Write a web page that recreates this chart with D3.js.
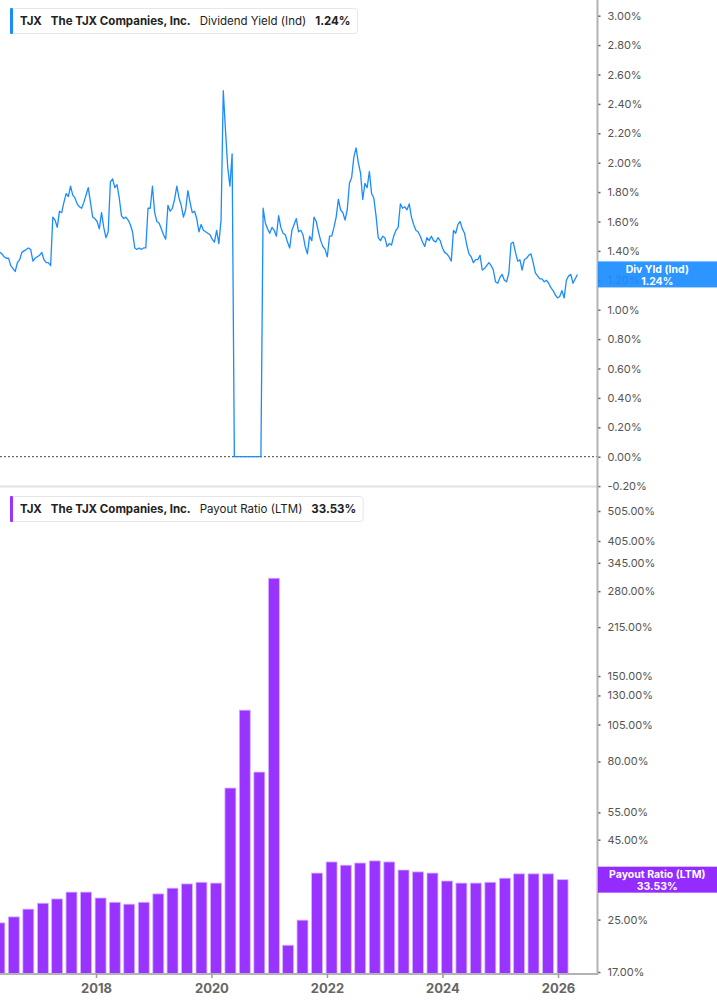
<!DOCTYPE html>
<html>
<head>
<meta charset="utf-8">
<script src="https://cdn.jsdelivr.net/npm/d3@7"></script>
<style>
  body { margin: 0; background: #fff; font-family: Inter, "Noto Sans", sans-serif; }
</style>
</head>
<body>
<div id="chart"></div>
<script>
// dividend yield (%), sampled every 14 days from the start date
const yieldStart = "2016-05-02";
const yieldStepDays = 14;
const yieldValues = [
  1.39, 1.38, 1.36, 1.35, 1.35, 1.30, 1.28, 1.26, 1.32, 1.34,
  1.39, 1.40, 1.41, 1.42, 1.41, 1.33, 1.35, 1.36, 1.37, 1.39,
  1.34, 1.32, 1.32, 1.30, 1.63, 1.61, 1.56, 1.67, 1.66, 1.73,
  1.79, 1.77, 1.84, 1.78, 1.76, 1.72, 1.70, 1.69, 1.73, 1.78,
  1.83, 1.73, 1.63, 1.62, 1.60, 1.55, 1.66, 1.56, 1.49, 1.53,
  1.87, 1.89, 1.83, 1.85, 1.76, 1.64, 1.62, 1.63, 1.61, 1.58,
  1.53, 1.42, 1.41, 1.42, 1.41, 1.42, 1.42, 1.69, 1.69, 1.84,
  1.66, 1.60, 1.59, 1.55, 1.51, 1.48, 1.71, 1.67, 1.69, 1.75,
  1.84, 1.76, 1.71, 1.63, 1.68, 1.81, 1.73, 1.66, 1.67, 1.62,
  1.53, 1.58, 1.54, 1.53, 1.52, 1.51, 1.48, 1.46, 1.54, 1.45,
  1.61, 2.49, 2.22, 1.97, 1.84, 2.06, 0, 0, 0, 0,
  0, 0, 0, 0, 0, 0, 0, 0, 0, 1.69,
  1.59, 1.55, 1.52, 1.56, 1.54, 1.50, 1.64, 1.56, 1.52, 1.51,
  1.46, 1.42, 1.54, 1.58, 1.62, 1.53, 1.54, 1.51, 1.43, 1.38,
  1.50, 1.47, 1.63, 1.60, 1.53, 1.47, 1.43, 1.41, 1.36, 1.50,
  1.50, 1.56, 1.63, 1.75, 1.68, 1.66, 1.61, 1.68, 1.86, 1.90,
  2.04, 2.10, 2.00, 1.93, 1.75, 1.86, 1.83, 1.94, 1.79, 1.76,
  1.64, 1.49, 1.47, 1.50, 1.49, 1.43, 1.45, 1.44, 1.50, 1.54,
  1.56, 1.72, 1.69, 1.70, 1.68, 1.72, 1.63, 1.58, 1.54, 1.53,
  1.50, 1.46, 1.43, 1.49, 1.47, 1.50, 1.47, 1.46, 1.49, 1.47,
  1.42, 1.39, 1.38, 1.36, 1.33, 1.54, 1.52, 1.58, 1.60, 1.55,
  1.52, 1.44, 1.38, 1.36, 1.32, 1.34, 1.34, 1.37, 1.27, 1.28,
  1.30, 1.32, 1.30, 1.27, 1.19, 1.18, 1.22, 1.24, 1.20, 1.19,
  1.25, 1.45, 1.46, 1.39, 1.33, 1.34, 1.27, 1.34, 1.35, 1.37,
  1.38, 1.32, 1.25, 1.23, 1.21, 1.21, 1.19, 1.20, 1.18, 1.15,
  1.13, 1.10, 1.08, 1.09, 1.13, 1.08, 1.20, 1.23, 1.24, 1.18,
  1.21, 1.24
];

// payout ratio LTM (%), one per fiscal quarter
const payoutStart = "2016-04-30";
const payoutValues = [
  24.4, 25.5, 27.0, 28.2, 29.1, 30.6, 30.6, 29.3, 28.4, 28.0,
  28.4, 30.2, 31.5, 32.5, 32.9, 32.7, 65.8, 116.7, 74.0, 308.0,
  20.7, 24.9, 35.2, 38.2, 37.3, 37.9, 38.5, 38.2, 36.0, 35.5,
  35.2, 33.2, 32.7, 32.7, 32.9, 33.9, 35.0, 35.0, 35.0, 33.53
];

const yieldTicks = [-0.2, 0, 0.2, 0.4, 0.6, 0.8, 1.0, 1.2, 1.4, 1.6, 1.8, 2.0, 2.2, 2.4, 2.6, 2.8, 3.0];
const payoutTicks = [17, 25, 45, 55, 80, 105, 130, 150, 215, 280, 345, 405, 505];
const yearTicks = [2018, 2020, 2022, 2024, 2026];

const ticker = "TJX";
const company = "The TJX Companies, Inc.";
const yieldName = "Dividend Yield (Ind)";
const yieldShort = "Div Yld (Ind)";
const payoutName = "Payout Ratio (LTM)";

const blue = "#1a8cff";
const purple = "#9933ff";

const W = 717, H = 1005;
const axisX = 597.5;
const baseY = 974;

const svg = d3.select('#chart')
  .append('svg')
  .attr('width', W)
  .attr('height', H)
  .style('display', 'block');

const parse = d3.timeParse('%Y-%m-%d');
const yieldData = yieldValues.map((v, i) => ({ date: d3.timeDay.offset(parse(yieldStart), i * yieldStepDays), value: v }));
const payoutData = payoutValues.map((v, i) => ({ date: d3.timeMonth.offset(parse(payoutStart), i * 3), value: v }));

const x = d3.scaleTime()
  .domain([new Date(2018, 0, 1), new Date(2026, 0, 1)])
  .range([96, 558]);

const yTop = d3.scaleLinear().domain([-0.2, 3.0]).range([486.1, 15.7]);
const yBot = d3.scaleLog().domain([17, 505]).range([972, 511]);

svg.append('clipPath').attr('id', 'plot')
  .append('rect').attr('x', 0).attr('y', 0).attr('width', axisX).attr('height', baseY);

// panel separator
svg.append('line')
  .attr('x1', 0).attr('x2', axisX)
  .attr('y1', 486.5).attr('y2', 486.5)
  .attr('stroke', '#e2e2e2').attr('stroke-width', 2);

// zero line
svg.append('line')
  .attr('x1', 0).attr('x2', axisX)
  .attr('y1', yTop(0)).attr('y2', yTop(0))
  .attr('stroke', '#444').attr('stroke-width', 1)
  .attr('stroke-dasharray', '2,2');

// yield line
svg.append('path')
  .datum(yieldData)
  .attr('clip-path', 'url(#plot)')
  .attr('fill', 'none')
  .attr('stroke', blue)
  .attr('stroke-width', 1.3)
  .attr('stroke-linejoin', 'round')
  .attr('d', d3.line().x(d => x(d.date)).y(d => yTop(d.value)));

// payout bars
const step = x(payoutData[1].date) - x(payoutData[0].date);
const bw = step * 0.76;
svg.append('g')
  .attr('clip-path', 'url(#plot)')
  .selectAll('rect')
  .data(payoutData)
  .join('rect')
  .attr('x', d => x(d.date) - bw / 2)
  .attr('width', bw)
  .attr('y', d => yBot(d.value))
  .attr('height', d => baseY - yBot(d.value))
  .attr('fill', purple)
  .attr('stroke', '#d6b3ff')
  .attr('stroke-width', 0.8);

// right axes
function styleAxis(g) {
  g.select('.domain').remove();
  g.selectAll('.tick line').attr('stroke', '#666').attr('stroke-width', 1.5);
  g.selectAll('.tick text').attr('fill', '#555').style('font-size', '11px')
    .style('font-family', 'Inter, "Noto Sans", sans-serif');
}

svg.append('g')
  .attr('transform', `translate(${axisX},0)`)
  .call(d3.axisRight(yTop).tickValues(yieldTicks).tickFormat(d => d.toFixed(2) + '%').tickSize(3).tickPadding(7))
  .call(styleAxis);

svg.append('g')
  .attr('transform', `translate(${axisX},0)`)
  .call(d3.axisRight(yBot).tickValues(payoutTicks).tickFormat(d => d.toFixed(2) + '%').tickSize(3).tickPadding(7))
  .call(styleAxis);

svg.append('line')
  .attr('x1', axisX).attr('x2', axisX)
  .attr('y1', 0).attr('y2', baseY + 1)
  .attr('stroke', '#b3b3b3').attr('stroke-width', 2);

// bottom axis
svg.append('line')
  .attr('x1', 0).attr('x2', axisX)
  .attr('y1', baseY).attr('y2', baseY)
  .attr('stroke', '#b3b3b3').attr('stroke-width', 2);

const xAxis = svg.append('g')
  .attr('transform', `translate(0,${baseY})`)
  .call(d3.axisBottom(x).tickValues(yearTicks.map(yr => new Date(yr, 0, 1))).tickFormat(d3.timeFormat('%Y')).tickSize(4).tickPadding(6));
xAxis.select('.domain').remove();
xAxis.selectAll('.tick line').attr('stroke', '#999').attr('stroke-width', 1.5);
xAxis.selectAll('.tick text').attr('fill', '#666').style('font-size', '13px').style('font-weight', 700)
  .style('font-family', 'Inter, "Noto Sans", sans-serif');

// legends
function legend(y, color, name, value) {
  const g = svg.append('g');
  const box = g.append('rect')
    .attr('x', 10.5).attr('y', y + 0.5).attr('height', 25).attr('rx', 3)
    .attr('fill', '#fff').attr('stroke', '#e6e6e6');
  g.append('rect').attr('x', 10).attr('y', y).attr('width', 3).attr('height', 26).attr('rx', 1).attr('fill', color);
  const parts = [[ticker, 700], [company, 700], [name, 400], [value, 700]];
  let cx = 20;
  parts.forEach(([s, w]) => {
    const t = g.append('text').attr('x', cx).attr('y', y + 17).attr('fill', '#222')
      .style('font-size', '11.5px').style('font-weight', w).text(s);
    cx += t.node().getComputedTextLength() + 9;
  });
  box.attr('width', cx - 9 - 10.5 + 7);
}
legend(8, blue, yieldName, yieldValues[yieldValues.length - 1].toFixed(2) + '%');
legend(496, purple, payoutName, payoutValues[payoutValues.length - 1].toFixed(2) + '%');

// value tags
function tag(cy, color, line1, line2) {
  const g = svg.append('g');
  g.append('rect').attr('x', axisX + 0.5).attr('y', cy - 13).attr('width', W - axisX).attr('height', 26)
    .attr('fill', color).attr('opacity', 0.92);
  const cx = (axisX + W) / 2;
  g.append('text').attr('x', cx).attr('y', cy - 1.5).attr('text-anchor', 'middle')
    .attr('fill', '#fff').style('font-size', '10.5px').style('font-weight', 700).text(line1);
  g.append('text').attr('x', cx).attr('y', cy + 10.5).attr('text-anchor', 'middle')
    .attr('fill', '#fff').style('font-size', '10.5px').style('font-weight', 700).text(line2);
}
const lastYield = yieldValues[yieldValues.length - 1];
const lastPayout = payoutValues[payoutValues.length - 1];
tag(yTop(lastYield), blue, yieldShort, lastYield.toFixed(2) + '%');
tag(yBot(lastPayout), '#8c1aff', payoutName, lastPayout.toFixed(2) + '%');
</script>
</body>
</html>
